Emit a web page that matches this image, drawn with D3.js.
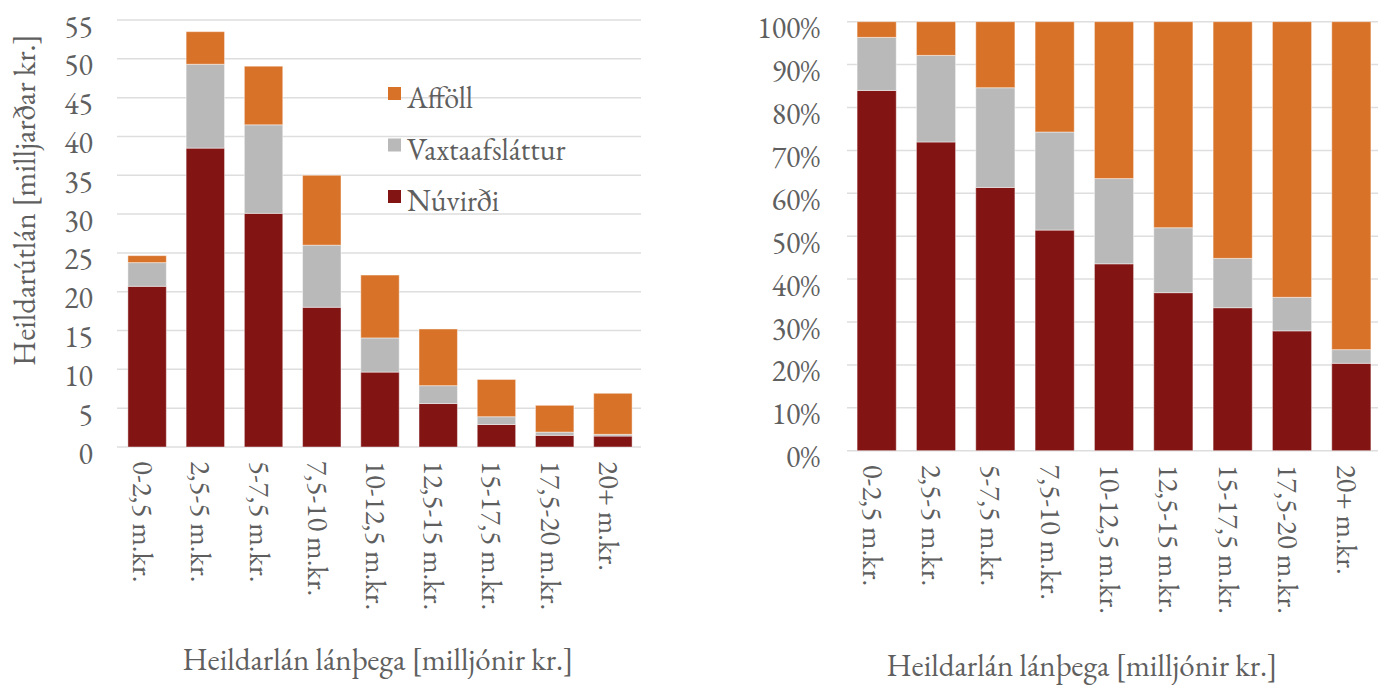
<!DOCTYPE html>
<html>
<head>
<meta charset="utf-8">
<title>Heildarútlán</title>
<script src="https://d3js.org/d3.v7.min.js"></script>
<style>
  body { margin: 0; background: #fff; }
  text { font-family: "EB Garamond", "Liberation Serif", "DejaVu Serif", serif; fill: #5f5f5f; }
</style>
</head>
<body>
<svg id="chart" width="1378" height="686"></svg>
<script>
// gögn lesin af myndinni (milljarðar kr.)
var categories = ["0-2,5 m.kr.", "2,5-5 m.kr.", "5-7,5 m.kr.", "7,5-10 m.kr.", "10-12,5 m.kr.",
                  "12,5-15 m.kr.", "15-17,5 m.kr.", "17,5-20 m.kr.", "20+ m.kr."];
var nuvirdi        = [20.7, 38.5, 30.1, 18.0, 9.65, 5.6, 2.9, 1.5, 1.41];
var vaxtaafslattur = [3.05, 10.8, 11.4, 8.0, 4.4, 2.3, 1.0, 0.42, 0.22];
var affoll         = [0.9, 4.2, 7.55, 9.0, 8.1, 7.3, 4.8, 3.45, 5.29];
var leftTicks = d3.range(0, 56, 5);
var rightTicks = d3.range(0, 1.01, 0.1);

var keys = ["Núvirði", "Vaxtaafsláttur", "Afföll"];
var colors = { "Núvirði": "#821414", "Vaxtaafsláttur": "#b9b9b9", "Afföll": "#d87229" };

var rows = categories.map(function(c, i) {
  return { cat: c, "Núvirði": nuvirdi[i], "Vaxtaafsláttur": vaxtaafslattur[i], "Afföll": affoll[i] };
});

var svg = d3.select("#chart");

function drawChart(opts) {
  var g = svg.append("g");
  var x = d3.scaleBand().domain(categories).range(opts.xRange).paddingInner(0.34).paddingOuter(0.17);
  var y = d3.scaleLinear().domain(opts.yDomain).range(opts.yRange);

  // gridlines
  g.selectAll("line.grid")
    .data(opts.ticks)
    .enter()
    .append("line")
    .attr("x1", opts.gridX[0]).attr("x2", opts.gridX[1])
    .attr("y1", function(d) { return y(d); })
    .attr("y2", function(d) { return y(d); })
    .attr("stroke", "#dedede")
    .attr("stroke-width", 1.5);

  // y tick labels
  g.selectAll("text.ytick")
    .data(opts.ticks)
    .enter()
    .append("text")
    .attr("x", opts.labelX)
    .attr("y", function(d) { return y(d) + 6; })
    .attr("text-anchor", "end")
    .attr("dominant-baseline", "central")
    .style("font-size", "30px")
    .text(opts.format);

  var stack = d3.stack().keys(keys);
  if (opts.expand) stack.offset(d3.stackOffsetExpand);
  var series = stack(rows);

  g.selectAll("g.series")
    .data(series)
    .enter()
    .append("g")
    .attr("fill", function(d) { return colors[d.key]; })
    .selectAll("rect")
    .data(function(d) { return d; })
    .enter()
    .append("rect")
    .attr("x", function(d) { return x(d.data.cat); })
    .attr("width", x.bandwidth())
    .attr("y", function(d) { return y(d[1]); })
    .attr("height", function(d) { return Math.max(0, y(d[0]) - y(d[1])); })
    .attr("stroke", "rgba(255,255,255,0.45)")
    .attr("stroke-width", 1);

  // x tick labels, rotated
  g.selectAll("text.xtick")
    .data(categories)
    .enter()
    .append("text")
    .attr("transform", function(d) {
      return "translate(" + (x(d) + x.bandwidth() / 2 - 4) + "," + (opts.yRange[0] + 14) + ") rotate(90)";
    })
    .attr("text-anchor", "start")
    .attr("dominant-baseline", "central")
    .style("font-size", "29px")
    .text(function(d) { return d; });

  g.append("text")
    .attr("x", opts.titleX[0])
    .attr("y", opts.titleX[1])
    .attr("text-anchor", "middle")
    .style("font-size", "31px")
    .text("Heildarlán lánþega [milljónir kr.]");

  return g;
}

var left = drawChart({
  xRange: [118, 642], gridX: [117, 641],
  yDomain: [0, 55], yRange: [447, 20],
  ticks: leftTicks, labelX: 93,
  format: function(d) { return d; },
  expand: false,
  titleX: [378, 670]
});

drawChart({
  xRange: [847, 1381], gridX: [847, 1378],
  yDomain: [0, 1], yRange: [450.7, 21.7],
  ticks: rightTicks, labelX: 820,
  format: d3.format(".0%"),
  expand: true,
  titleX: [1082, 676]
});

// y axis title, left chart
left.append("text")
  .attr("transform", "translate(24,200) rotate(-90)")
  .attr("text-anchor", "middle")
  .attr("dominant-baseline", "central")
  .style("font-size", "31px")
  .text("Heildarútlán [milljarðar kr.]");

// legend
var legendKeys = ["Afföll", "Vaxtaafsláttur", "Núvirði"];
var legend = left.selectAll("g.legend")
  .data(legendKeys)
  .enter()
  .append("g")
  .attr("transform", function(d, i) { return "translate(388," + (87 + i * 51.5) + ")"; });
legend.append("rect")
  .attr("width", 13).attr("height", 13)
  .attr("fill", function(d) { return colors[d]; });
legend.append("text")
  .attr("x", 19)
  .attr("y", 21)
  .style("font-size", "30px")
  .text(function(d) { return d; });
</script>
</body>
</html>
